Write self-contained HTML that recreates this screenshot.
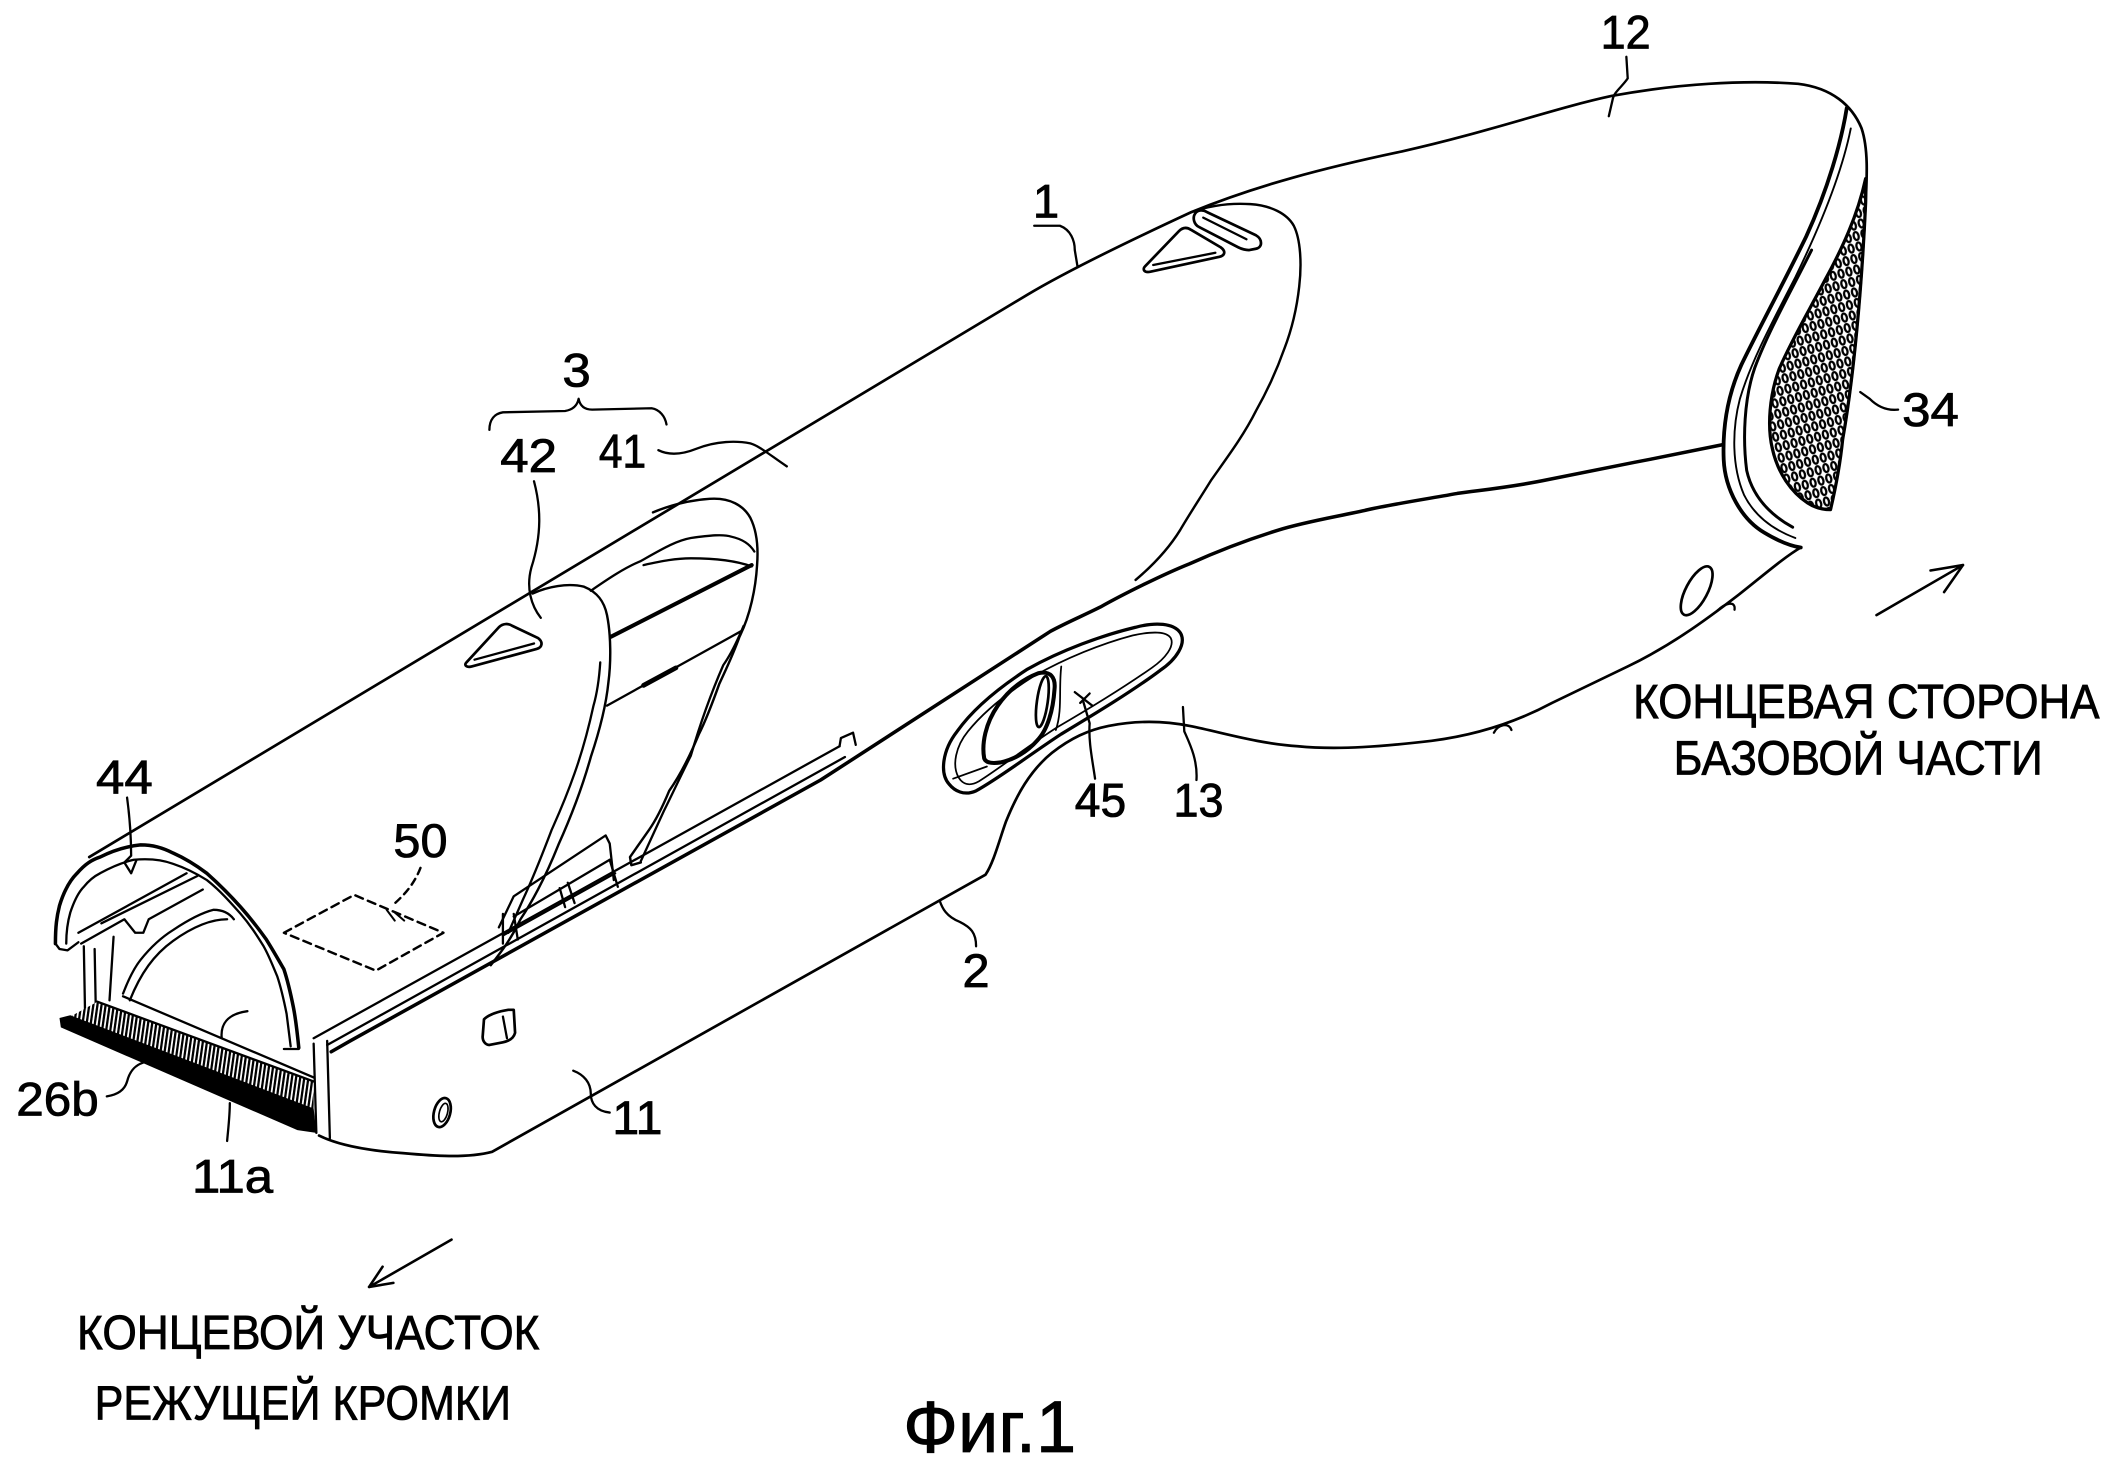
<!DOCTYPE html>
<html><head><meta charset="utf-8">
<style>
html,body{margin:0;padding:0;background:#fff;}
svg{display:block;}
text{font-family:"Liberation Sans",sans-serif;fill:#000;stroke:#000;stroke-width:0.6;}
</style></head>
<body>
<svg width="2109" height="1460" viewBox="0 0 1560 1080" preserveAspectRatio="none" xmlns="http://www.w3.org/2000/svg">
<defs>
<pattern id="grill" width="6" height="8" patternUnits="userSpaceOnUse" patternTransform="rotate(-15)">
<rect width="6" height="8" fill="#fff"/>
<ellipse cx="3" cy="4" rx="1.8" ry="3" fill="none" stroke="#000" stroke-width="1.7"/>
</pattern>
<pattern id="comb" width="3" height="10" patternUnits="userSpaceOnUse" patternTransform="rotate(8)">
<rect width="3" height="10" fill="#fff"/>
<rect width="1.7" height="10" fill="#000"/>
</pattern>
</defs>

<g fill="none" stroke="#000" stroke-width="1.7" stroke-linecap="round" stroke-linejoin="round">

<!-- Top line of housing -->
<path stroke-width="2" d="M 66 634 L 760 218 C 790 200, 840 176, 881 157 C 930 137, 980 124, 1037 112 C 1100 98, 1150 80, 1192 71 C 1240 62, 1290 59, 1330 62 C 1355 65, 1370 78, 1377 95 C 1382 110, 1381 130, 1380 150 C 1377 215, 1371 280, 1363 325 C 1360 345, 1357 362, 1354 377"/>

<!-- End face rims -->
<path stroke-width="2.8" d="M 1366 80 C 1362 105, 1352 140, 1336 175 C 1320 208, 1300 245, 1288 270 C 1278 292, 1274 315, 1275 340 C 1276 362, 1288 384, 1305 394 C 1315 400, 1325 404, 1332 405"/>
<path stroke-width="1.4" d="M 1369 95 C 1362 130, 1345 170, 1328 205 C 1310 240, 1295 268, 1287 295 C 1281 318, 1281 345, 1290 366 C 1298 382, 1312 392, 1328 398"/>
<path stroke-width="2.2" d="M 1340 185 C 1325 215, 1308 245, 1298 272 C 1290 295, 1289 325, 1292 348 C 1296 366, 1308 380, 1326 390"/>
<!-- Grille 34 -->
<path stroke-width="2.4" fill="url(#grill)" d="M 1380 132 C 1374 160, 1362 185, 1350 207 C 1338 230, 1325 252, 1316 273 C 1309 292, 1307 315, 1311 332 C 1315 350, 1325 364, 1337 372 C 1343 376, 1349 377, 1354 377 C 1358 360, 1361 345, 1363 325 C 1371 280, 1377 215, 1380 150 Z"/>

<!-- Lower line of upper housing, continuing as base top rail -->
<path stroke-width="2.6" d="M 1274 329 C 1250 334, 1230 338, 1209 342 L 1144 355 C 1120 360, 1100 362, 1078 365 C 1050 370, 1030 373, 1012 377 C 990 382, 965 386, 946 392 C 920 400, 900 408, 880 417 C 860 425, 830 440, 814 449 C 800 456, 790 460, 777 467 L 607 577 L 259 770 L 245 778"/>
<!-- rails -->
<path d="M 232 768 L 621 552"/>
<path d="M 242 773 L 625 560"/>
<path d="M 621 552 L 622 546 L 631 542 L 633 551"/>

<!-- Base bottom line + 13 contour -->
<path stroke-width="2" d="M 236 840 C 250 847, 270 851, 298 853 C 320 855, 345 857, 364 852 L 729 647 C 735 638, 739 622, 744 608 C 752 588, 762 570, 778 557 C 792 546, 805 540, 820 537 C 840 533, 860 533, 880 537 C 905 542, 930 550, 960 552 C 990 555, 1025 552, 1059 548 C 1090 544, 1120 535, 1148 520 L 1204 493 C 1235 478, 1260 460, 1286 440 C 1305 425, 1320 412, 1332 405"/>
<path d="M 1270 452 C 1276 446, 1284 444, 1283 451"/>
<path d="M 1105 542 C 1108 536, 1116 534, 1118 540"/>
<ellipse cx="1255" cy="437" rx="8" ry="20" transform="rotate(28 1255 437)" stroke-width="2"/>

<!-- Slot 45 -->
<path stroke-width="2.4" d="M 702 580 C 695 572, 697 555, 708 541 C 720 524, 740 508, 760 495 C 785 481, 815 470, 840 464 C 855 460, 868 461, 873 468 C 878 476, 870 488, 858 496 C 838 511, 810 528, 785 543 C 762 558, 740 575, 722 585 C 713 589, 706 585, 702 580 Z"/>
<path stroke-width="1.3" d="M 709 575 C 704 566, 707 552, 716 541 C 728 526, 746 512, 765 500 C 788 487, 815 476, 838 470 C 852 467, 863 467, 866 472 C 869 478, 862 487, 852 494 C 832 508, 806 524, 782 538 C 760 552, 740 568, 724 578 C 717 582, 712 580, 709 575 Z"/>
<path stroke-width="3" d="M 728 561 C 726 550, 729 535, 738 522 C 745 512, 755 503, 768 498 C 777 496, 781 501, 780 510 C 779 525, 775 540, 767 548 C 760 556, 750 562, 740 564 C 733 565, 729 564, 728 561 Z"/>
<ellipse cx="771" cy="519" rx="4" ry="19" transform="rotate(8 771 519)" stroke-width="2"/>
<path stroke-width="1.3" d="M 785 493 C 783 510, 786 525, 781 540"/>
<path stroke-width="1.3" d="M 705 576 L 730 567"/>

<!-- Cover 41 rear edge, button, block -->
<path stroke-width="1.8" d="M 881 157 C 895 152, 910 150, 925 151 C 940 152, 952 158, 957 167 C 962 177, 963 195, 961 212 C 959 230, 955 245, 950 258 C 944 275, 938 288, 929 304 C 920 322, 908 338, 896 355 C 888 368, 880 380, 873 392 C 865 405, 853 418, 840 429"/>
<path stroke-width="2" d="M 847 197 L 872 171 C 875 168, 878 168, 881 170 L 903 183 C 907 186, 906 189, 902 190 L 851 201 C 846 202, 845 199, 847 197 Z"/>
<path d="M 853 196 L 899 187"/>
<path stroke-width="2" d="M 884 158 C 886 155, 890 155, 893 157 L 929 174 C 934 177, 934 183, 929 184 L 924 185 C 921 185, 918 184, 916 183 L 887 168 C 883 166, 882 161, 884 158 Z"/>
<path d="M 890 161 L 922 177"/>

<!-- Cover 42 -->
<path stroke-width="1.8" d="M 394 439 C 405 434, 420 431, 432 434 C 442 438, 447 445, 449 455 C 452 470, 452 490, 450 505 C 448 525, 442 545, 437 560 C 430 585, 422 605, 413 625 C 405 645, 395 665, 385 680 C 378 695, 370 705, 363 714"/>
<path d="M 444 490 C 443 505, 441 515, 439 522 C 434 545, 430 558, 425 572 C 418 592, 412 605, 408 614 C 400 635, 394 650, 387 665 L 376 690"/>
<path stroke-width="2" d="M 345 490 L 369 464 C 372 461, 376 461, 379 463 L 398 472 C 402 475, 401 479, 397 480 L 349 493 C 345 494, 343 492, 345 490 Z"/>
<path d="M 351 488 L 395 476"/>

<!-- Cover 41 front -->
<path stroke-width="1.8" d="M 483 379 C 495 374, 510 370, 525 369 C 540 368, 550 374, 555 383 C 560 393, 561 405, 560 418 C 559 435, 555 455, 547 471 C 542 485, 537 495, 532 506 C 527 520, 522 533, 517 543 C 510 560, 502 575, 495 585 C 490 597, 485 607, 480 614 L 466 634 L 467 640 L 474 638"/>
<path d="M 550 463 C 545 475, 540 485, 535 492 C 525 515, 518 535, 511 559 C 503 575, 497 588, 491 600 L 474 637"/>
<path d="M 437 437 C 450 428, 462 420, 474 415 C 490 406, 500 400, 511 398 C 525 396, 535 395, 541 397 C 550 399, 555 403, 558 408"/>
<path d="M 476 418 C 490 415, 500 413, 511 413 C 530 413, 545 415, 556 419"/>
<path stroke-width="3" d="M 452 471 L 556 418"/>
<path d="M 449 522 L 548 467"/>
<path stroke-width="3.5" d="M 476 507 L 500 494"/>

<!-- Hinge bracket -->
<path d="M 369 686 L 380 663 L 448 618 L 451 624 L 454 651"/>
<path d="M 380 678 L 451 636"/>
<path d="M 372 692 L 455 646"/>
<path d="M 372 676 L 372 698 M 380 676 L 383 695 M 420 653 L 425 668 M 414 657 L 418 671 M 451 636 L 457 656"/>

<!-- Base side details -->
<path stroke-width="2" d="M 358 754 C 362 750, 370 748, 376 747 L 380 747 L 381 764 C 380 768, 377 770, 372 771 L 362 773 C 359 773, 357 770, 357 767 Z"/>
<path d="M 372 752 L 375 768"/>
<ellipse cx="327" cy="823" rx="6" ry="11" transform="rotate(15 327 823)" stroke-width="2"/>
<ellipse cx="328" cy="823" rx="3" ry="7" transform="rotate(15 328 823)" stroke-width="1.2"/>
<path d="M 232 772 L 234 838"/>
<path d="M 242 770 L 244 842"/>

<!-- Dashed 50 -->
<path stroke-width="1.8" stroke-dasharray="6 4" d="M 210 690 L 262 662 L 328 690 L 278 718 Z"/>
<path stroke-width="1.8" stroke-dasharray="5 4" d="M 311 642 C 306 655, 298 663, 290 670"/>
<path stroke-width="1.5" d="M 286 673 L 292 681 M 292 675 L 299 681"/>

<!-- Arch 44 -->
<path stroke-width="2.6" d="M 41 698 C 41 685, 42 678, 44 670 C 47 660, 51 652, 57 646 C 63 639, 68 636, 74 634 C 84 629, 94 626, 104 625 C 113 625, 120 627, 128 631 C 137 635, 145 640, 153 646 C 162 654, 170 662, 178 671 C 186 680, 192 688, 197 695 C 202 703, 206 710, 210 717 C 213 726, 215 735, 217 745 C 219 755, 220 765, 221 775"/>
<path d="M 49 698 C 49 690, 50 682, 52 675 C 55 666, 58 660, 62 656 C 66 651, 70 648, 74 646 C 83 641, 90 638, 99 636 C 110 635, 120 636, 128 639 C 137 642, 145 646, 153 651 C 162 658, 170 667, 178 676 C 185 684, 190 692, 195 700 C 199 707, 202 715, 205 722 C 208 731, 210 740, 212 750 C 213 758, 214 766, 215 774"/>
<path d="M 41 698 L 44 702 L 50 703 L 58 697"/>
<path d="M 210 776 L 221 776"/>
<!-- holder inside arch -->
<path d="M 58 690 L 138 646"/>
<path d="M 60 698 L 92 680 L 100 690 L 106 690 L 110 680 L 150 658"/>
<path d="M 75 683 L 146 648"/>
<path d="M 62 700 L 63 754 M 70 702 L 71 754 M 84 693 L 81 740"/>
<path d="M 91 735 C 96 722, 100 715, 104 710 C 112 700, 120 693, 128 688 C 140 680, 150 675, 158 673 C 165 673, 170 676, 173 680"/>
<path d="M 96 740 C 104 720, 114 706, 128 696 C 142 686, 155 680, 168 680"/>

<!-- Blade / comb -->
<path stroke="none" fill="url(#comb)" d="M 52 752 L 72 741 L 232 800 L 232 822 Z"/>
<path stroke="none" fill="#000" d="M 44 753 L 52 751 L 232 820 L 234 838 L 220 836 L 45 760 Z"/>
<path d="M 72 741 L 232 800"/>
<path d="M 91 737 L 232 797"/>
<path d="M 164 768 C 163 758, 168 750, 183 748"/>

<!-- Leaders -->
<path d="M 79 811 C 86 810, 92 807, 94 800 C 96 792, 100 788, 106 786"/>
<path d="M 168 844 C 169 833, 170 825, 170 816"/>
<path d="M 451 823 C 441 822, 437 816, 437 809 C 437 801, 432 795, 424 792"/>
<path d="M 722 700 C 722 690, 718 686, 710 682 C 700 678, 697 672, 695 666"/>
<path d="M 94 590 C 96 605, 97 620, 97 633 L 92 638 L 97 646 L 101 636"/>
<path d="M 1404 303 C 1395 304, 1388 300, 1383 295 L 1376 290"/>
<path d="M 1203 42 L 1204 58 C 1200 64, 1194 68, 1193 73 L 1190 86"/>
<path d="M 765 167 L 784 167 C 792 170, 795 178, 795 185 L 797 197"/>
<path d="M 362 318 C 362 310, 366 306, 372 305 L 418 304 C 424 303, 427 300, 428 295 C 429 300, 432 303, 438 303 L 482 302 C 488 303, 492 308, 493 314"/>
<path d="M 395 356 C 400 375, 401 395, 393 420 C 389 435, 393 448, 400 457"/>
<path d="M 487 333 C 495 337, 505 336, 515 332 C 530 326, 545 326, 555 328 C 562 330, 570 337, 582 345"/>
<path d="M 810 576 C 808 562, 805 548, 806 535 L 801 518"/>
<path d="M 795 512 L 808 522 M 806 513 L 799 520"/>
<path d="M 885 577 C 886 562, 880 550, 876 541 L 875 523"/>

<!-- Arrows -->
<path stroke-width="1.9" d="M 1388 455 L 1452 418"/>
<path stroke-width="1.9" d="M 1428 422 L 1452 418 L 1438 438"/>
<path stroke-width="1.9" d="M 334 917 L 273 952"/>
<path stroke-width="1.9" d="M 283 937 L 273 952 L 291 949"/>
</g>

<!-- Labels -->
<g font-size="35">
<text x="1184" y="36" textLength="37" lengthAdjust="spacingAndGlyphs">12</text>
<text x="764" y="161">1</text>
<text x="416" y="286" textLength="21" lengthAdjust="spacingAndGlyphs">3</text>
<text x="370" y="349" textLength="42" lengthAdjust="spacingAndGlyphs">42</text>
<text x="443" y="346" textLength="35" lengthAdjust="spacingAndGlyphs">41</text>
<text x="1407" y="315" textLength="42" lengthAdjust="spacingAndGlyphs">34</text>
<text x="71" y="587" textLength="42" lengthAdjust="spacingAndGlyphs">44</text>
<text x="291" y="634" textLength="40" lengthAdjust="spacingAndGlyphs">50</text>
<text x="795" y="604" textLength="38" lengthAdjust="spacingAndGlyphs">45</text>
<text x="868" y="604" textLength="37" lengthAdjust="spacingAndGlyphs">13</text>
<text x="712" y="730" textLength="20" lengthAdjust="spacingAndGlyphs">2</text>
<text x="12" y="825" textLength="61" lengthAdjust="spacingAndGlyphs">26b</text>
<text x="453" y="839" textLength="37" lengthAdjust="spacingAndGlyphs">11</text>
<text x="142" y="882" textLength="60" lengthAdjust="spacingAndGlyphs">11a</text>
</g>

<g font-size="36">
<text x="1208" y="531" textLength="345" lengthAdjust="spacingAndGlyphs">КОНЦЕВАЯ СТОРОНА</text>
<text x="1238" y="573" textLength="273" lengthAdjust="spacingAndGlyphs">БАЗОВОЙ ЧАСТИ</text>
<text x="57" y="998" textLength="342" lengthAdjust="spacingAndGlyphs">КОНЦЕВОЙ УЧАСТОК</text>
<text x="70" y="1050" textLength="308" lengthAdjust="spacingAndGlyphs">РЕЖУЩЕЙ КРОМКИ</text>
</g>
<text x="668" y="1074" font-size="54" textLength="128" lengthAdjust="spacingAndGlyphs">Фиг.1</text>
</svg>
</body></html>
